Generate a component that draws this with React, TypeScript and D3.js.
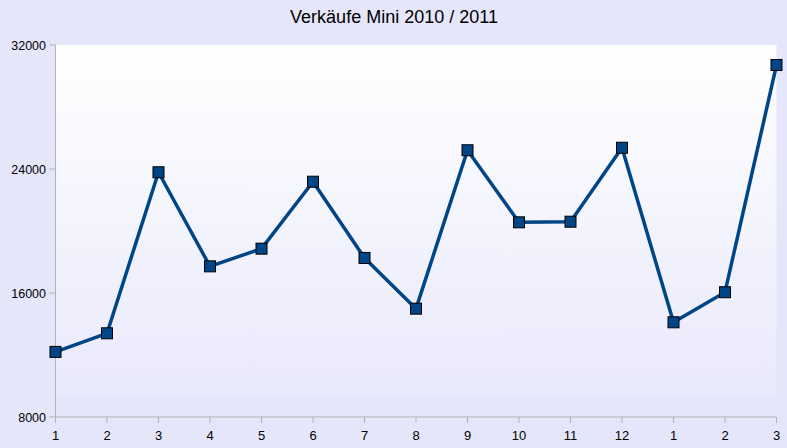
import React from "react";
import * as d3 from "d3";

const categories = ["1", "2", "3", "4", "5", "6", "7", "8", "9", "10", "11", "12", "1", "2", "3"];
const sales = [12200, 13400, 23790, 17720, 18860, 23180, 18260, 14990, 25210, 20560, 20600, 25370, 14110, 16050, 30710];
const yTicks = [8000, 16000, 24000, 32000];
const title = "Verkäufe Mini 2010 / 2011";

const W = 787;
const H = 448;
const left = 55.5;
const right = 776.5;
const top = 45;
const bottom = 417;

export default function App() {
  const x = d3.scalePoint<number>().domain(d3.range(categories.length)).range([left, right]);
  const y = d3.scaleLinear().domain([8000, 32000]).range([bottom, top]);
  const line = d3
    .line<number>()
    .x((_, i) => x(i) as number)
    .y((d) => y(d));
  const font = "'Liberation Sans', Arial, sans-serif";
  const m = 11;
  return (
    <svg
      width={W}
      height={H}
      style={{ position: "absolute", left: 0, top: 0, display: "block" }}
    >
      <defs>
        <linearGradient id="pg" x1="0" y1="0" x2="0" y2="1">
          <stop offset="0" stopColor="#ffffff" />
          <stop offset="1" stopColor="#e9e9fc" />
        </linearGradient>
      </defs>
      <rect x={0} y={0} width={W} height={H} fill="#e6e6fb" />
      <rect x={left} y={top} width={right - left} height={395 - top} fill="url(#pg)" />
      <text x={394} y={23} textAnchor="middle" fontFamily={font} fontSize={18} fill="#000">
        {title}
      </text>
      {/* Y axis */}
      <line x1={left} x2={left} y1={top} y2={bottom} stroke="#b3b3b3" strokeWidth={1} />
      {yTicks.map((t) => (
        <g key={t}>
          <line x1={left - 6} x2={left} y1={y(t)} y2={y(t)} stroke="#b3b3b3" />
          <text x={46} y={y(t) + 4.7} textAnchor="end" fontFamily={font} fontSize={12.5} fill="#000">
            {t}
          </text>
        </g>
      ))}
      {/* X axis */}
      <line x1={left} x2={right} y1={bottom} y2={bottom} stroke="#b3b3b3" />
      {categories.map((c, i) => (
        <g key={i}>
          <line x1={x(i)} x2={x(i)} y1={bottom} y2={bottom + 6} stroke="#b3b3b3" />
          <text x={x(i)} y={440} textAnchor="middle" fontFamily={font} fontSize={13} fill="#000">
            {c}
          </text>
        </g>
      ))}
      <path d={line(sales) || ""} fill="none" stroke="#004586" strokeWidth={3.5} strokeLinejoin="round" />
      {sales.map((v, i) => (
        <rect
          key={i}
          x={(x(i) as number) - m / 2}
          y={y(v) - m / 2}
          width={m}
          height={m}
          fill="#004586"
          stroke="#000"
          strokeWidth={1}
        />
      ))}
    </svg>
  );
}
